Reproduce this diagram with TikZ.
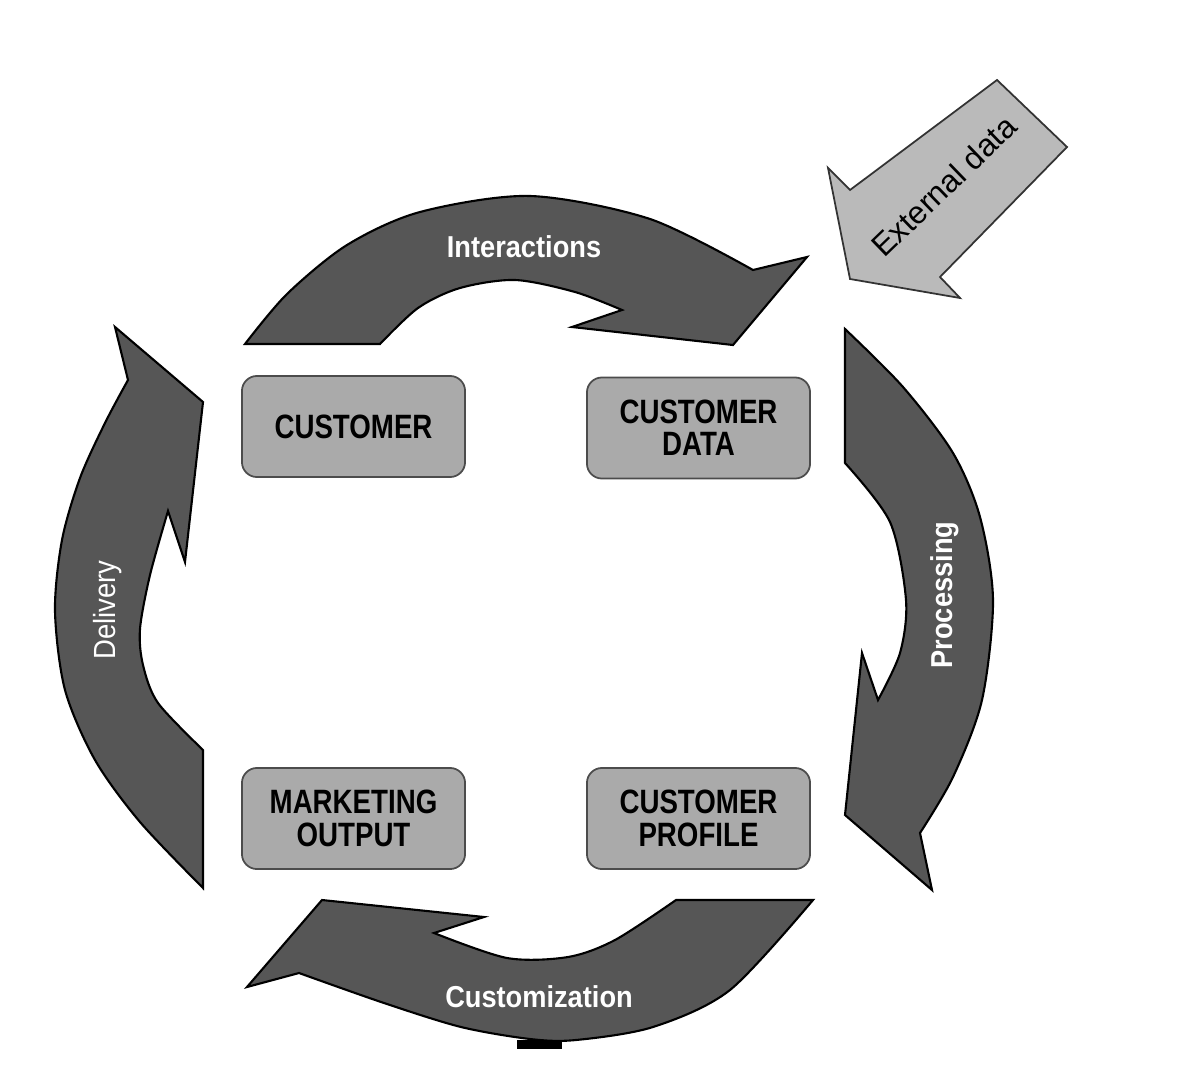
\documentclass[tikz,border=0pt]{standalone}
\usepackage{fontspec}
\newfontfamily\condfont[FakeStretch=0.9]{Liberation Sans}
\newfontfamily\boxfont[FakeStretch=0.82]{Liberation Sans}
\newfontfamily\plainfont{Liberation Sans}
\definecolor{bandgray}{RGB}{86,86,86}
\definecolor{boxgray}{RGB}{170,170,170}
\definecolor{extgray}{RGB}{186,186,186}
\usetikzlibrary{positioning}

\begin{document}
\begin{tikzpicture}[x=0.01cm, y=-0.01cm,
    band/.style={fill=bandgray, draw=black, line width=0.6pt},
    box/.style={draw=black!70, fill=boxgray, rounded corners=0.15cm, line width=0.5pt, minimum width=2.23cm, minimum height=1.01cm, align=center, font=\boxfont\bfseries\fontsize{9.6}{9.2}\selectfont},
    bandlabel/.style={text=white, inner sep=0pt, font=\condfont\bfseries\fontsize{8.6}{10}\selectfont}]
    % Background
    \fill[white] (0,0) rectangle (1182,1076);
    \useasboundingbox (0,0) rectangle (1182,1076);

    % Interactions arrow
    \draw[band] (380,344) -- (245,344)
        -- plot[smooth] coordinates {(245,344) (287,294) (347,245) (420,212) (530,196) (650,219) (753,270)}
        -- (807,257) -- (733,345) -- (572,327) -- (622,310)
        -- plot[smooth] coordinates {(622,310) (575,292) (515,280) (460,288) (418,308) (380,344)}
        -- cycle;

    % Processing arrow
    \draw[band] (845,329)
        -- plot[smooth] coordinates {(845,329) (903,387) (953,453) (980,517) (993,600) (982,700) (953,777) (920,833)}
        -- (932,890) -- (845,815) -- (862,653) -- (878,700)
        -- plot[smooth] coordinates {(878,700) (900,653) (906,600) (890,522) (845,463)}
        -- cycle;

    % Customization arrow
    \draw[band] (813,900)
        -- plot[smooth] coordinates {(813,900) (730,990) (653,1027) (576,1040) (530,1039) (461,1027) (384,1003) (299,973)}
        -- (247,987) -- (322,900) -- (484,917) -- (434,933)
        -- plot[smooth] coordinates {(434,933) (507,958) (568,957) (615,940) (676,900)}
        -- cycle;
    \fill[black] (517,1040) rectangle (562,1049);

    % Delivery arrow
    \draw[band] (203,888)
        -- plot[smooth] coordinates {(203,888) (140,822) (95,760) (65,690) (55,611) (62,540) (80,478) (105,423) (128,380)}
        -- (115,327) -- (203,402) -- (185,562) -- (168,511)
        -- plot[smooth] coordinates {(168,511) (150,575) (140,629) (143,665) (158,703) (203,750)}
        -- cycle;

    % External data arrow
    \draw[fill=extgray, draw=black!80, line width=0.5pt] (997,80) -- (1067,147) -- (940,277) -- (960,298) -- (850,279) -- (828,168) -- (850,190) -- cycle;
    \node[rotate=44, inner sep=0pt, font=\plainfont\fontsize{9}{10}\selectfont] (extlbl) at (944,186) {External data};

    % Arrow labels
    \node[bandlabel] (interlbl) at (524,247) {Interactions};
    \node[bandlabel, rotate=90] (proclbl) at (945,595) {Processing};
    \node[bandlabel] (custmzlbl) at (539,997) {Customization};
    \node[bandlabel, rotate=90, font=\condfont\fontsize{8.7}{10}\selectfont] (delivlbl) at (108,610) {Delivery};

    % Boxes
    \node[box] (cust) at (353.5,426.5) {CUSTOMER};
    \node[box] (custdata) at (698.5,428) {CUSTOMER\\DATA};
    \node[box] (mktout) at (353.5,818.5) {MARKETING\\OUTPUT};
    \node[box] (custprof) at (698.5,818.5) {CUSTOMER\\PROFILE};
\end{tikzpicture}
\end{document}
